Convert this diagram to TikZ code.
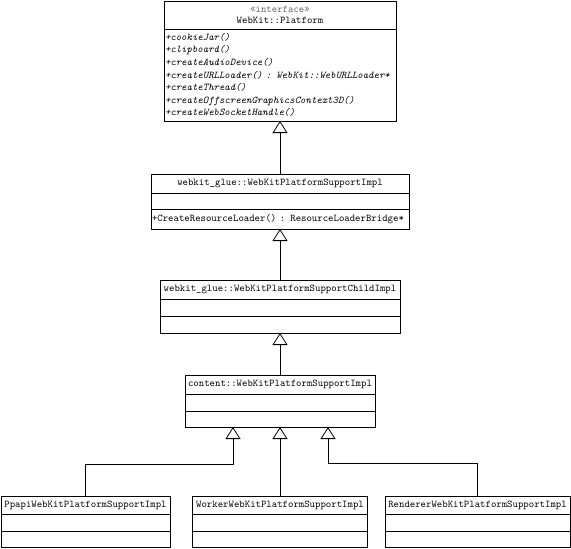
\documentclass[tikz,border=0pt]{standalone}
\usetikzlibrary{arrows.meta,positioning}
\newcommand{\umlfont}{\fontsize{10.3}{12.6}\selectfont\ttfamily}

\begin{document}
\begin{tikzpicture}[x=1pt, y=-1pt,
      cls/.style={draw, line width=0.8pt, inner sep=0pt, outer sep=0pt, font=\umlfont},
      head/.style={cls, minimum height=19pt},
      comp/.style={cls, minimum height=17pt},
      inherit/.style={draw, line width=0.8pt, -{Triangle[open, length=12pt, width=15pt]}}]
    \useasboundingbox (0,0) rectangle (571,549);
    % interface
    \node[cls, minimum width=232pt, minimum height=28pt, align=center] (plat) at (280,15)
      {\textcolor{black!60}{«interface»}\\[-2pt]WebKit::Platform};
    \node[cls, text width=230pt, minimum height=92pt, inner xsep=1pt, align=left,
          below=0pt of plat] (platops)
      {\itshape +cookieJar()\\ +clipboard()\\ +createAudioDevice()\\
       +createURLLoader() : WebKit::WebURLLoader*\\ +createThread()\\
       +createOffscreenGraphicsContext3D()\\ +createWebSocketHandle()};
    % webkit_glue
    \node[head, minimum width=258pt] (impl) at (280,183.5) {webkit\_glue::WebKitPlatformSupportImpl};
    \node[comp, minimum width=258pt, minimum height=16pt, below=0pt of impl] (implattr) {};
    \node[comp, text width=256pt, inner xsep=1pt, minimum height=20pt, align=left,
          below=0pt of implattr] (implops) {+CreateResourceLoader() : ResourceLoaderBridge*};
    \node[head, minimum width=240pt] (child) at (280,289.5) {webkit\_glue::WebKitPlatformSupportChildImpl};
    \node[comp, minimum width=240pt, below=0pt of child] (childattr) {};
    \node[comp, minimum width=240pt, below=0pt of childattr] (childops) {};
    % content
    \node[head, minimum width=190pt] (cnt) at (280,384.5) {content::WebKitPlatformSupportImpl};
    \node[comp, minimum width=190pt, below=0pt of cnt] (cntattr) {};
    \node[comp, minimum width=190pt, minimum height=16pt, below=0pt of cntattr] (cntops) {};
    \node[head, minimum width=169pt, minimum height=18pt] (ppapi) at (85.5,505) {PpapiWebKitPlatformSupportImpl};
    \node[comp, minimum width=169pt, below=0pt of ppapi] (ppapiattr) {};
    \node[comp, minimum width=169pt, minimum height=16pt, below=0pt of ppapiattr] (ppapiops) {};
    \node[head, minimum width=175pt, minimum height=18pt] (worker) at (280,505) {WorkerWebKitPlatformSupportImpl};
    \node[comp, minimum width=175pt, below=0pt of worker] (workerattr) {};
    \node[comp, minimum width=175pt, minimum height=16pt, below=0pt of workerattr] (workerops) {};
    \node[head, minimum width=185pt, minimum height=18pt] (rend) at (477.5,505) {RendererWebKitPlatformSupportImpl};
    \node[comp, minimum width=185pt, below=0pt of rend] (rendattr) {};
    \node[comp, minimum width=185pt, minimum height=16pt, below=0pt of rendattr] (rendops) {};

    \coordinate (cntl) at (233,427);
    \coordinate (cntr) at (328,427);
    \draw[inherit] (impl.north) -- (platops.south);
    \draw[inherit] (child.north) -- (implops.south);
    \draw[inherit] (cnt.north) -- (childops.south);
    \draw[inherit] (ppapi.north) -- ++(0,-32) -| (cntl);
    \draw[inherit] (worker.north) -- (cntops.south);
    \draw[inherit] (rend.north) -- ++(0,-33) -| (cntr);
  \end{tikzpicture}
\end{document}
